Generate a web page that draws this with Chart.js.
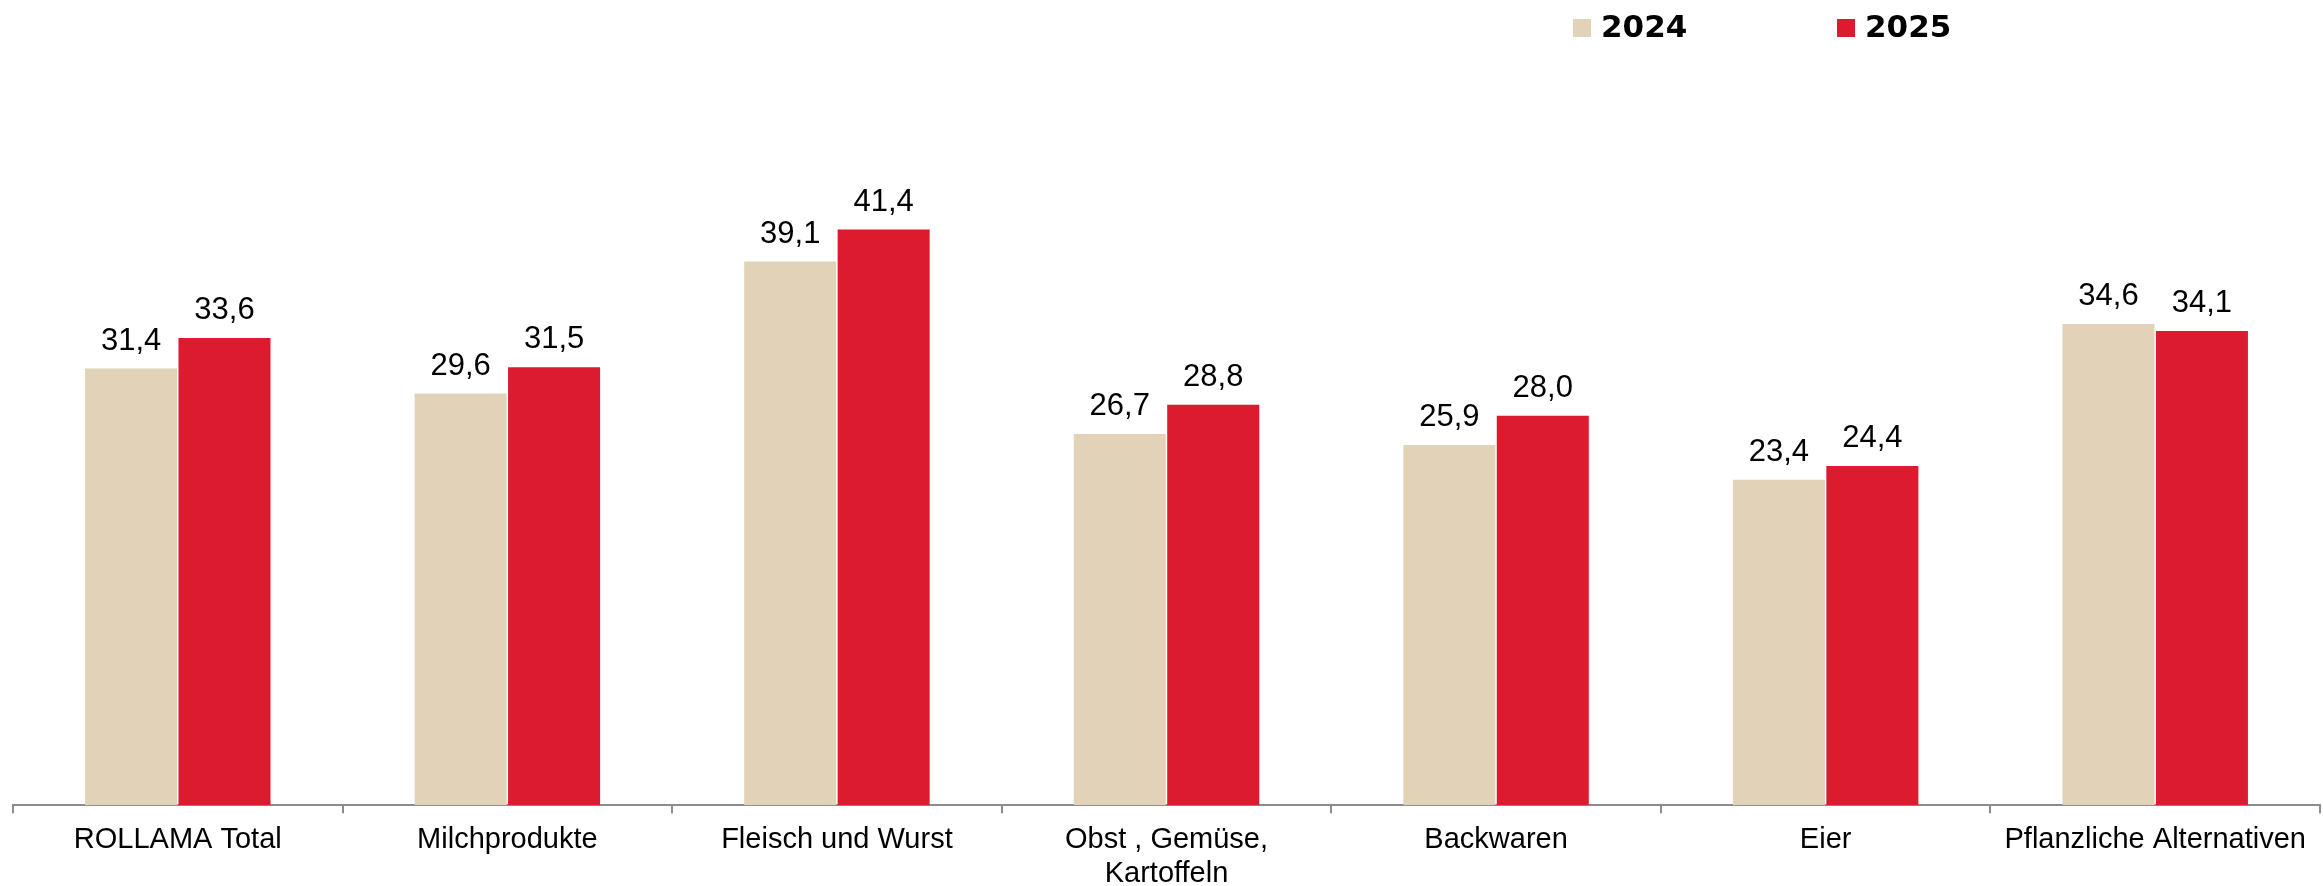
<!DOCTYPE html>
<html>
<head>
<meta charset="utf-8">
<script src="https://cdn.jsdelivr.net/npm/chart.js@4"></script>
<style>
  html, body { margin: 0; padding: 0; background: #fff; }
  #wrap { width: 2323px; height: 886px; }
</style>
</head>
<body>
<div id="wrap"><canvas id="myChart" width="2323" height="886"></canvas></div>
<script>
var categories = ["ROLLAMA Total", "Milchprodukte", "Fleisch und Wurst",
    ["Obst , Gemüse,", "Kartoffeln"], "Backwaren", "Eier", "Pflanzliche Alternativen"];
var values2024 = [31.4, 29.6, 39.1, 26.7, 25.9, 23.4, 34.6];
var values2025 = [33.6, 31.5, 41.4, 28.8, 28.0, 24.4, 34.1];
var seriesNames = ["2024", "2025"];

// values above bars, german comma
var valueLabels = {
    id: 'valueLabels',
    afterDatasetsDraw: function(chart) {
        var ctx = chart.ctx;
        ctx.save();
        ctx.font = '31px "Liberation Sans", Arial, sans-serif';
        ctx.fillStyle = '#000';
        ctx.textAlign = 'center';
        ctx.textBaseline = 'alphabetic';
        chart.data.datasets.forEach(function(ds, i) {
            chart.getDatasetMeta(i).data.forEach(function(bar, j) {
                var txt = ds.data[j].toFixed(1).replace('.', ',');
                ctx.fillText(txt, bar.x, bar.y - 19);
            });
        });
        ctx.restore();
    }
};

// legend sits top right of the middle
var topLegend = {
    id: 'topLegend',
    afterDraw: function(chart) {
        var ctx = chart.ctx;
        var xs = [1573, 1837];
        ctx.save();
        ctx.font = 'bold 31px "DejaVu Sans", sans-serif';
        ctx.textBaseline = 'alphabetic';
        chart.data.datasets.forEach(function(ds, i) {
            ctx.fillStyle = ds.backgroundColor;
            ctx.fillRect(xs[i], 19, 18, 18);
            ctx.fillStyle = '#000';
            ctx.fillText(ds.label, xs[i] + 28, 37);
        });
        ctx.restore();
    }
};

var ctx = document.getElementById('myChart').getContext('2d');

var myChart = new Chart(ctx, {
    type: 'bar',
    data: {
        labels: categories,
        datasets: [{
            label: seriesNames[0],
            data: values2024,
            backgroundColor: '#E2D3B8'
        }, {
            label: seriesNames[1],
            data: values2025,
            backgroundColor: '#DC1B2F'
        }]
    },
    options: {
        responsive: false,
        animation: false,
        layout: {
            padding: { top: 110, left: 13, right: 3, bottom: -15 }
        },
        datasets: {
            bar: {
                categoryPercentage: 0.567,
                barPercentage: 0.985
            }
        },
        plugins: {
            legend: { display: false },
            tooltip: { enabled: false }
        },
        scales: {
            x: {
                grid: {
                    offset: true,
                    drawOnChartArea: false,
                    drawTicks: true,
                    tickLength: 8,
                    color: '#8c8c8c',
                    lineWidth: 2
                },
                border: { display: true, color: '#8c8c8c', width: 2 },
                ticks: {
                    color: '#000',
                    padding: 10,
                    maxRotation: 0,
                    autoSkip: false,
                    font: { family: '"Liberation Sans", Arial, sans-serif', size: 29, lineHeight: 1.17 }
                }
            },
            y: {
                display: false,
                min: 0,
                max: 50
            }
        }
    },
    plugins: [valueLabels, topLegend]
});
</script>
</body>
</html>
